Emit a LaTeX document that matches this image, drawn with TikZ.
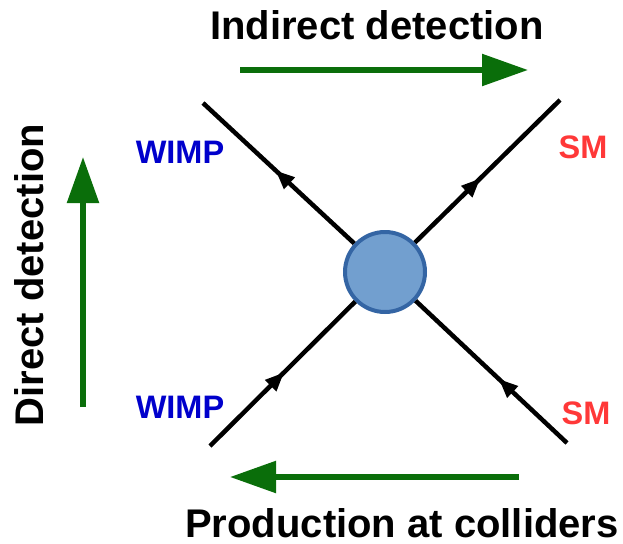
\documentclass[tikz,border=0pt]{standalone}
\usepackage{fontspec}
\setmainfont{Liberation Sans}
\usetikzlibrary{arrows.meta,decorations.markings}

\definecolor{arrowgreen}{HTML}{0A6E0A}
\definecolor{wimpblue}{HTML}{0000CC}
\definecolor{smred}{HTML}{FF3838}
\definecolor{blobfill}{HTML}{729FCF}
\definecolor{blobedge}{HTML}{3465A4}

\begin{document}
\begin{tikzpicture}[x=1pt, y=-1pt,
    heading/.style={font=\fontsize{40}{45}\selectfont\bfseries, anchor=base, inner sep=0pt},
    particle/.style={font=\fontsize{32.5}{37}\selectfont\bfseries, anchor=base, inner sep=0pt},
    process/.style={draw=arrowgreen, line width=5.5pt, -{Triangle[length=46pt,width=31pt]}},
    fermion/.style={line width=4.5pt,
        decoration={markings, mark=at position #1 with {\arrow{Triangle[length=19pt,width=15pt]}}},
        postaction={decorate}}]
    \useasboundingbox (0, 0) rectangle (623, 543);

    % vertex
    \node[circle, draw=blobedge, fill=blobfill, line width=4pt,
          minimum size=80pt, inner sep=0pt] (blob) at (385, 272) {};

    % external legs
    \coordinate (wimpA) at (203, 103);
    \coordinate (wimpB) at (210, 446);
    \coordinate (smA) at (560, 100);
    \coordinate (smB) at (567, 443);
    \draw[fermion=0.52] (blob) -- (wimpA);
    \draw[fermion=0.45] (blob) -- (smA);
    \draw[fermion=0.51] (wimpB) -- (blob);
    \draw[fermion=0.45] (smB) -- (blob);

    \node[particle, text=wimpblue] (wimpAlbl) at (180, 163) {WIMP};
    \node[particle, text=wimpblue] (wimpBlbl) at (180, 418) {WIMP};
    \node[particle, text=smred] (smAlbl) at (583, 158) {SM};
    \node[particle, text=smred] (smBlbl) at (586, 424) {SM};

    % channels
    \coordinate (indtail) at (240, 70);
    \coordinate (indtip) at (528, 70);
    \coordinate (dirtail) at (83, 407);
    \coordinate (dirtip) at (83, 157);
    \coordinate (coltail) at (519, 477);
    \coordinate (coltip) at (230, 477);
    \draw[process] (indtail) -- (indtip);
    \draw[process] (dirtail) -- (dirtip);
    \draw[process] (coltail) -- (coltip);

    \node[heading] (indlbl) at (377, 40) {Indirect detection};
    \node[heading, rotate=90] (dirlbl) at (43, 275) {Direct detection};
    \node[heading] (collbl) at (402, 537) {Production at colliders};
\end{tikzpicture}
\end{document}
